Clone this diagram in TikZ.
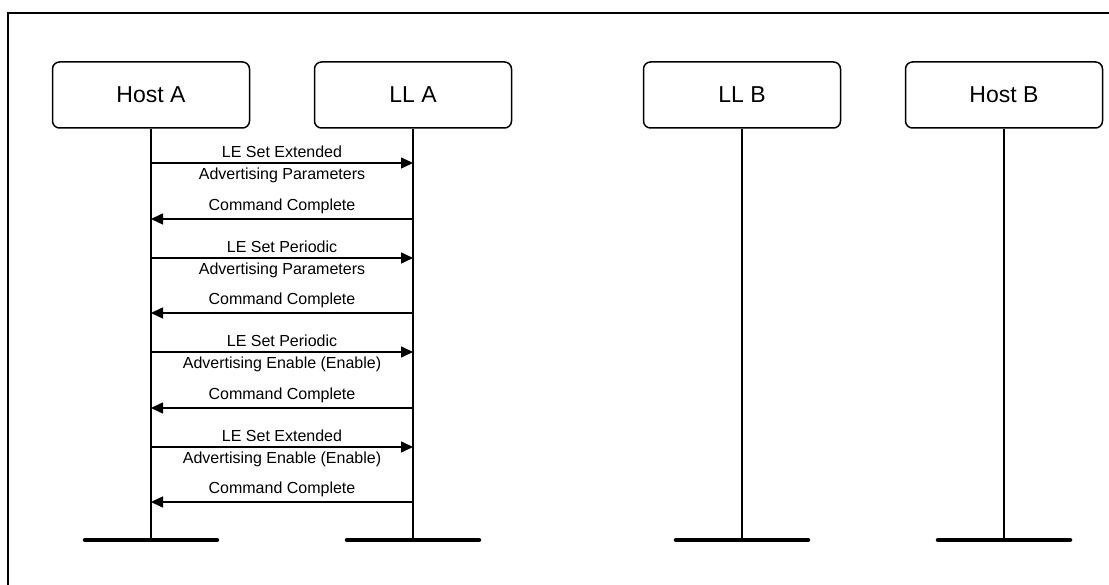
\documentclass[tikz,border=0pt]{standalone}
\usepackage{fontspec}
\setmainfont{Liberation Sans}
\usetikzlibrary{arrows.meta}

\begin{document}
\begin{tikzpicture}[x=1pt,y=-1pt]
        \tikzset{party/.style={draw, line width=1.5pt, rounded corners=7pt,
                minimum width=197pt, minimum height=66pt,
                font=\fontsize{23}{27}\selectfont}}
        \tikzset{life/.style={line width=1.5pt}}
        \tikzset{foot/.style={line width=4.5pt, line cap=round}}
        \tikzset{msg/.style={line width=1.5pt, -{Triangle[length=12pt,width=11pt]}}}
        \tikzset{lbl/.style={font=\fontsize{16}{19}\selectfont, inner sep=4.5pt}}
        \clip (0,0) rectangle (1109,585);
        \draw[line width=1.5pt] (8,13) rectangle (1140,610);
        % parties
        \node[party] (HA) at (151,95) {Host A};
        \node[party] (LA) at (413,95) {LL A};
        \node[party] (LB) at (742,95) {LL B};
        \node[party] (HB) at (1004,95) {Host B};
        \coordinate (HAend) at (151,540);
        \coordinate (LAend) at (413,540);
        \coordinate (LBend) at (742,540);
        \coordinate (HBend) at (1004,540);
        \draw[life] (HA) -- (HAend);
        \draw[life] (LA) -- (LAend);
        \draw[life] (LB) -- (LBend);
        \draw[life] (HB) -- (HBend);
        \draw[foot] ([xshift=-66pt]HAend) -- ([xshift=66pt]HAend);
        \draw[foot] ([xshift=-66pt]LAend) -- ([xshift=66pt]LAend);
        \draw[foot] ([xshift=-66pt]LBend) -- ([xshift=66pt]LBend);
        \draw[foot] ([xshift=-66pt]HBend) -- ([xshift=66pt]HBend);
        % messages
        \draw[msg] (HA |- 0,163) -- node[lbl, above] {LE Set Extended}
                node[lbl, below] {Advertising Parameters} (LA |- 0,163);
        \draw[msg] (LA |- 0,219) -- node[lbl, above] {Command Complete} (HA |- 0,219);
        \draw[msg] (HA |- 0,258) -- node[lbl, above] {LE Set Periodic}
                node[lbl, below] {Advertising Parameters} (LA |- 0,258);
        \draw[msg] (LA |- 0,313) -- node[lbl, above] {Command Complete} (HA |- 0,313);
        \draw[msg] (HA |- 0,352) -- node[lbl, above] {LE Set Periodic}
                node[lbl, below] {Advertising Enable (Enable)} (LA |- 0,352);
        \draw[msg] (LA |- 0,408) -- node[lbl, above] {Command Complete} (HA |- 0,408);
        \draw[msg] (HA |- 0,447) -- node[lbl, above] {LE Set Extended}
                node[lbl, below] {Advertising Enable (Enable)} (LA |- 0,447);
        \draw[msg] (LA |- 0,502) -- node[lbl, above] {Command Complete} (HA |- 0,502);
\end{tikzpicture}
\end{document}
